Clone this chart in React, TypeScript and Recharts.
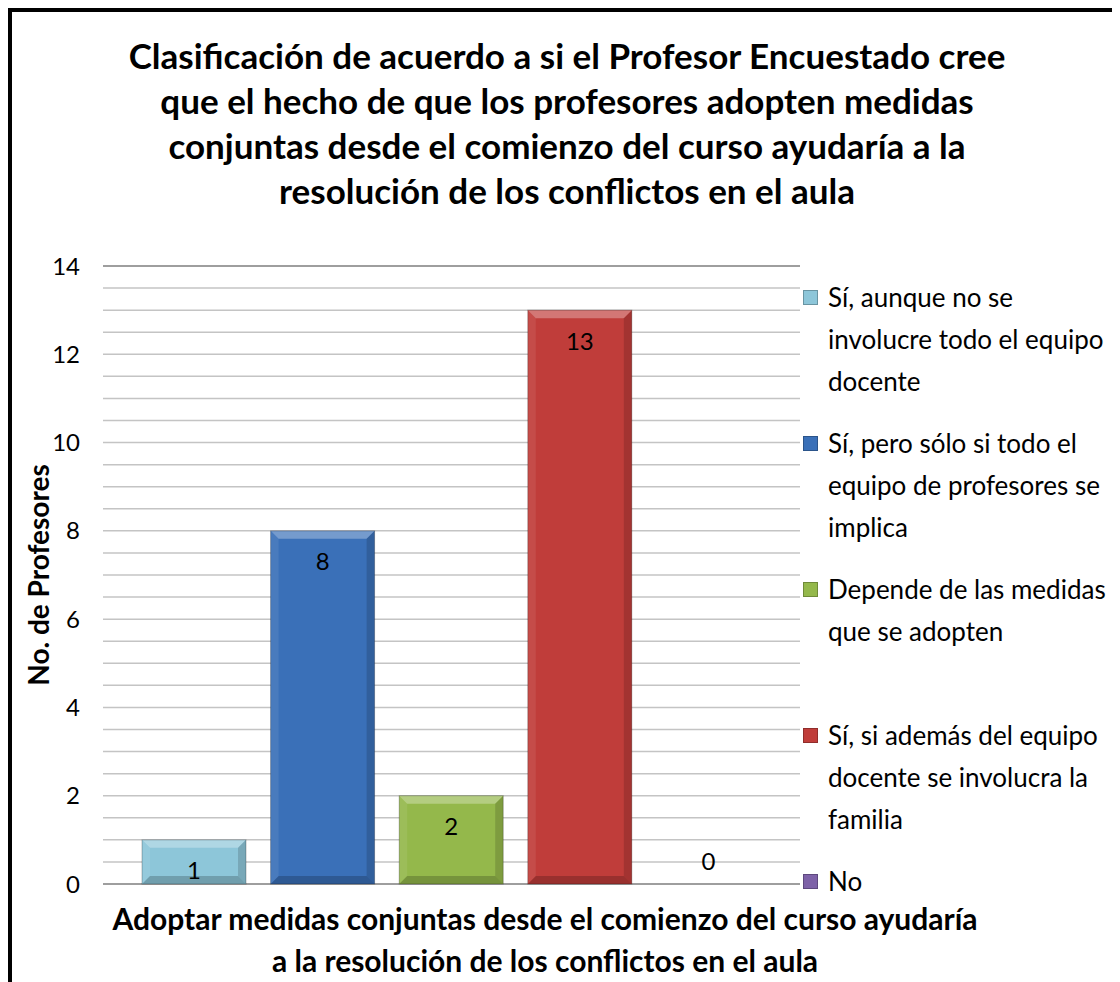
import React from 'react'
import {
  BarChart,
  Bar,
  XAxis,
  YAxis,
  CartesianGrid
} from 'recharts'

// Series (one bar each)
const SERIES = [
  'Sí, aunque no se\ninvolucre todo el equipo\ndocente',
  'Sí, pero sólo si todo el\nequipo de profesores se\nimplica',
  'Depende de las medidas\nque se adopten',
  'Sí, si además del equipo\ndocente se involucra la\nfamilia',
  'No'
]
const VALUES = [1, 8, 2, 13, 0]
const CATEGORY = ['Adoptar medidas conjuntas']

const COLORS = ['#8DC6D9', '#3A70B8', '#94B84B', '#C03D3A', '#7E62A8']

const MINOR_TICKS = [0, 0.5, 1, 1.5, 2, 2.5, 3, 3.5, 4, 4.5, 5, 5.5, 6, 6.5, 7, 7.5, 8, 8.5, 9, 9.5, 10, 10.5, 11, 11.5, 12, 12.5, 13, 13.5, 14]
const MAJOR_TICKS = [0, 2, 4, 6, 8, 10, 12, 14]

const TITLE = [
  'Clasificación de acuerdo a si el Profesor Encuestado cree',
  'que el hecho de que los profesores adopten medidas',
  'conjuntas desde el comienzo del curso ayudaría a la',
  'resolución de los conflictos en el aula'
]
const X_TITLE = [
  'Adoptar medidas conjuntas desde el comienzo del curso ayudaría',
  'a la resolución de los conflictos en el aula'
]
const Y_TITLE = 'No. de Profesores'

const FONT = 'Lato, "Open Sans", sans-serif'

const row: Record<string, string | number> = { cat: CATEGORY[0] }
VALUES.forEach((v, i) => { row['s' + i] = v })
const chartData = [row]

// bevelled bar like the office 3D look
function BevelBar(props: any) {
  const { x, y, width: w, height: h, fill } = props
  if (!h || h <= 0) return null
  const b = Math.min(8, h / 2)
  return (
    <g>
      <rect x={x} y={y} width={w} height={h} fill={fill} />
      <polygon points={`${x},${y} ${x + w},${y} ${x + w - b},${y + b} ${x + b},${y + b}`} fill="#fff" fillOpacity={0.3} />
      <polygon points={`${x},${y} ${x + b},${y + b} ${x + b},${y + h - b} ${x},${y + h}`} fill="#fff" fillOpacity={0.08} />
      <polygon points={`${x + w},${y} ${x + w},${y + h} ${x + w - b},${y + h - b} ${x + w - b},${y + b}`} fill="#000" fillOpacity={0.15} />
      <polygon points={`${x},${y + h} ${x + b},${y + h - b} ${x + w - b},${y + h - b} ${x + w},${y + h}`} fill="#000" fillOpacity={0.2} />
      <rect x={x} y={y} width={w} height={h} fill="none" stroke="#000" strokeOpacity={0.25} />
    </g>
  )
}

function renderLabel(props: any) {
  const { x, y, width, value } = props
  const ty = Number(value) > 0 ? y + 30 : y - 24
  return (
    <text x={x + width / 2} y={ty} textAnchor="middle" dominantBaseline="central"
      fontFamily={FONT} fontSize={24} fill="#000">
      {value}
    </text>
  )
}

function LegendBox() {
  return (
    <div style={{ fontFamily: FONT, fontSize: 26, color: '#000' }}>
      {SERIES.map((name, i) => (
        <div key={name} style={{ position: 'relative', height: 146, lineHeight: '42px' }}>
          <div style={{
            position: 'absolute', left: 0, top: 14, width: 15, height: 15,
            background: COLORS[i], boxShadow: 'inset 0 0 0 1px rgba(0,0,0,0.25)'
          }} />
          <div style={{ position: 'absolute', left: 25, top: 0, whiteSpace: 'pre' }}>{name}</div>
        </div>
      ))}
    </div>
  )
}

export default function App() {
  const W = 1104
  const H = 974
  return (
    <div style={{ position: 'relative', width: W, height: H, fontFamily: FONT }}>
      <div style={{
        position: 'absolute', left: 0, top: 0, width: W, height: H,
        borderLeft: '4px solid #000', borderTop: '4px solid #000', boxSizing: 'border-box'
      }} />
      <div style={{
        position: 'absolute', left: 59, top: 25, width: 1000, textAlign: 'center',
        fontWeight: 700, fontSize: 35, lineHeight: '45px', color: '#000'
      }}>
        {TITLE.map(t => <div key={t}>{t}</div>)}
      </div>
      <div style={{ position: 'absolute', left: 0, top: 0 }}>
        <BarChart width={W} height={H} data={chartData} barSize={104} barGap={24.6}
          margin={{ top: 258, right: 312, bottom: 98, left: 15 }}>
          <CartesianGrid vertical={false} stroke="#c4c4c4" strokeWidth={1.5} />
          <CartesianGrid vertical={false} stroke="#8c8c8c" strokeWidth={1.5} yAxisId="major" />
          <XAxis dataKey="cat" tick={false} axisLine={false} tickLine={false} height={0} />
          <YAxis domain={[0, 14]} ticks={MINOR_TICKS} interval={0} width={80}
            axisLine={false} tickLine={false} tickSize={0} tickMargin={23}
            tickFormatter={(v: number) => (v % 2 === 0 ? String(v) : '')}
            tick={{ fontFamily: FONT, fontSize: 24, fill: '#000' }} />
          <YAxis yAxisId="major" orientation="right" domain={[0, 14]} ticks={MAJOR_TICKS}
            interval={0} width={0} tick={false} axisLine={false} tickLine={false} />
          {SERIES.map((name, i) => (
            <Bar key={name} dataKey={'s' + i} name={name} fill={COLORS[i]}
              shape={<BevelBar />} label={renderLabel} isAnimationActive={false} />
          ))}
        </BarChart>
      </div>
      <div style={{ position: 'absolute', left: 795, top: 268, width: 310 }}>
        <LegendBox />
      </div>
      <div style={{
        position: 'absolute', left: 30, top: 567, transform: 'translate(-50%, -50%) rotate(-90deg)',
        whiteSpace: 'nowrap', fontWeight: 700, fontSize: 28, color: '#000'
      }}>
        {Y_TITLE}
      </div>
      <div style={{
        position: 'absolute', left: 37, top: 889, width: 1000, textAlign: 'center',
        fontWeight: 700, fontSize: 30, lineHeight: '42px', color: '#000'
      }}>
        {X_TITLE.map(t => <div key={t}>{t}</div>)}
      </div>
    </div>
  )
}
